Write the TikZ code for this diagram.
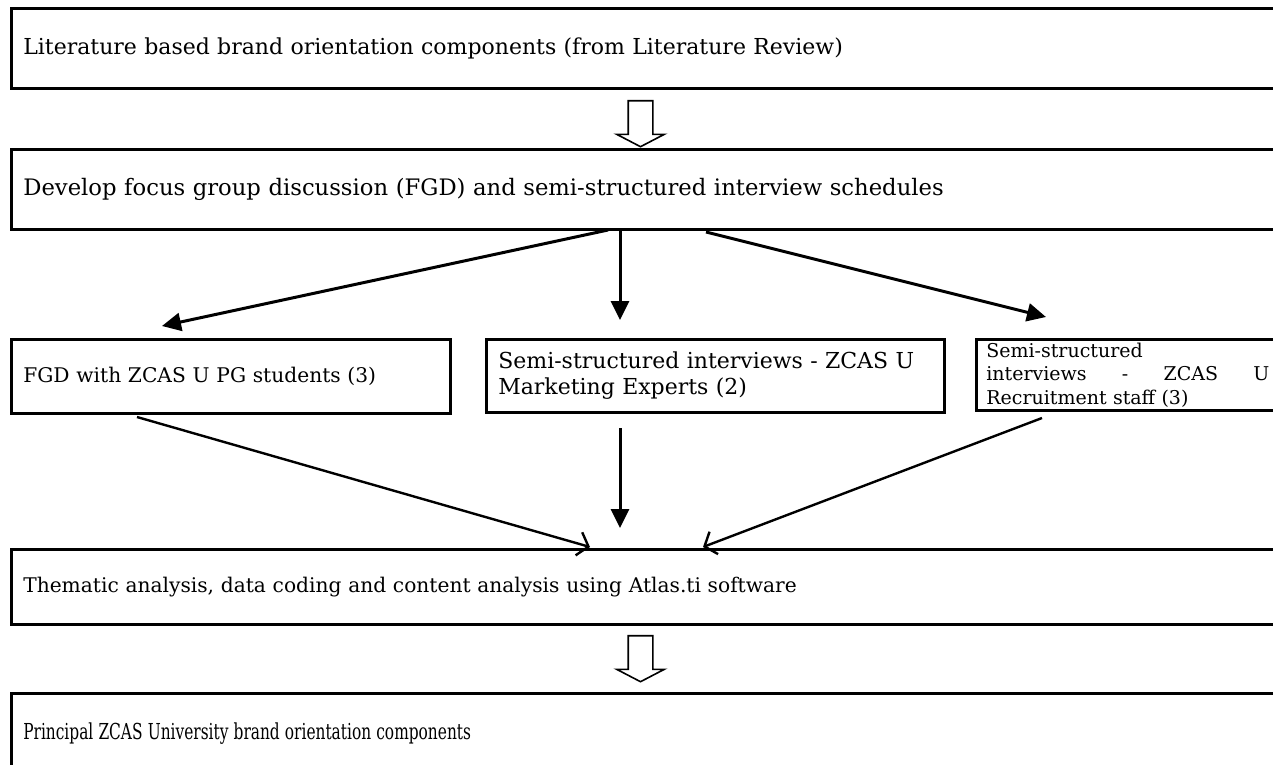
\documentclass[tikz,border=0pt]{standalone}
\usepackage{fontspec}
\setmainfont{DejaVu Serif}
\usetikzlibrary{arrows.meta,shapes.arrows}

\tikzset{
  box/.style={draw, line width=2.6pt, rectangle, anchor=north west, inner xsep=12pt,
    align=left, font=\fontsize{22}{26}\selectfont},
  solidarr/.style={line width=3pt, -{Triangle[length=19pt,width=18pt]}},
  barbarr/.style={line width=2.4pt, -{Straight Barb[length=10pt,width=24pt]}},
  hollow/.style={draw, line width=1.6pt, single arrow, shape border rotate=270,
    minimum height=46pt, inner sep=11.5pt, single arrow head extend=11.5pt,
    single arrow tip angle=125}
}

\begin{document}
\begin{tikzpicture}[x=1pt, y=-1pt]
    \clip (0,0) rectangle (1273,764);

    \node[box, text width=1256pt, minimum height=80pt] (lit) at (10,7)
        {Literature based brand orientation components (from Literature Review)};
    \node[hollow] (h1) at (640.5,120.5) {};
    \node[box, text width=1256pt, minimum height=80pt, font=\fontsize{22.7}{26}\selectfont] (dev) at (10,148)
        {Develop focus group discussion (FGD) and semi-structured interview schedules};

    \node[box, text width=415pt, minimum height=74pt, font=\fontsize{20.2}{26}\selectfont] (fgd) at (10,338)
        {FGD with ZCAS U PG students (3)};
    \node[box, text width=434pt, minimum height=73pt] (mkt) at (485,338)
        {Semi-structured interviews - ZCAS U\\Marketing Experts (2)};
    \node[box, text width=283pt, minimum height=71pt, inner xsep=10pt, inner ysep=1pt,
          font=\fontsize{19}{23.5}\selectfont] (rec) at (975,338)
        {Semi-structured\\interviews \hfill - \hfill ZCAS \hfill U\\Recruitment staff (3)};

    \node[box, text width=1256pt, minimum height=75pt, font=\fontsize{20.2}{26}\selectfont] (thm) at (10,548)
        {Thematic analysis, data coding and content analysis using Atlas.ti software};
    \node[hollow] (h2) at (640.5,655.5) {};
    \node[box, text width=1256pt, minimum height=80pt] (pri) at (10,692)
        {\scalebox{0.7}[1]{Principal ZCAS University brand orientation components}};

    % split out
    \coordinate (s1) at (608,230);
    \coordinate (s2) at (620,231);
    \coordinate (s3) at (706,232);
    \coordinate (e1) at (162,326);
    \coordinate (e2) at (620,320);
    \coordinate (e3) at (1046,317);
    \draw[solidarr] (s1) -- (e1);
    \draw[solidarr] (s2) -- (e2);
    \draw[solidarr] (s3) -- (e3);

    % merge in
    \coordinate (m1) at (137,417);
    \coordinate (m2) at (620,428);
    \coordinate (m3) at (1042,418);
    \coordinate (n1) at (590,547);
    \coordinate (n2) at (620,528);
    \coordinate (n3) at (703,547);
    \draw[barbarr] (m1) -- (n1);
    \draw[solidarr] (m2) -- (n2);
    \draw[barbarr] (m3) -- (n3);
\end{tikzpicture}
\end{document}
